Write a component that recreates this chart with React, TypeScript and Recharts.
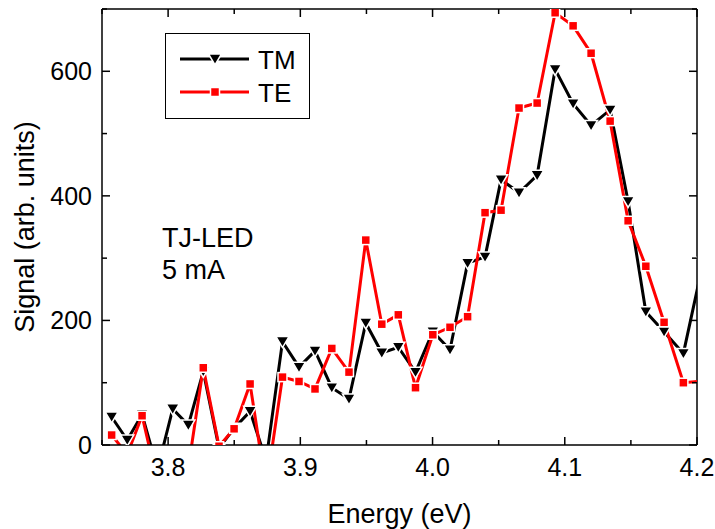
import React from "react";
import {
  LineChart,
  Line,
  XAxis,
  YAxis,
  Label,
  Legend,
  ReferenceLine,
  Customized,
} from "recharts";

// photon energy (eV) of each sample
const energy = [
  3.7573, 3.7691, 3.7803, 3.792, 3.8035, 3.8153, 3.8266, 3.8385, 3.8499, 3.862,
  3.8741, 3.8865, 3.899, 3.9111, 3.9238, 3.9368, 3.9495, 3.9616, 3.9741, 3.9871,
  4.0002, 4.0132, 4.0265, 4.0397, 4.0518, 4.0654, 4.0791, 4.0927, 4.1063, 4.1199,
  4.1343, 4.1479, 4.1613, 4.1751, 4.1897, 4.2046,
];

const tmSignal = [
  45, 8, 49, -39, 58, 32, 118, -5, 27, 54, -25, 166, 125, 151, 92, 74, 196, 148,
  157, 117, 182, 153, 292, 302, 426, 405, 433, 603, 548, 513, 538, 391, 214, 182,
  147, 293,
];

const teSignal = [
  16, -15, 47, -60, -50, -36, 124, -2, 26, 98, -70, 109, 102, 90, 155, 117, 329,
  194, 209, 92, 177, 189, 206, 373, 377, 541, 549, 694, 673, 629, 520, 360, 287,
  197, 100, 103,
];

const xTicks = [3.75, 3.8, 3.85, 3.9, 3.95, 4.0, 4.05, 4.1, 4.15, 4.2];
const yTicks = [0, 100, 200, 300, 400, 500, 600, 700];
const yLabeled = [0, 200, 400, 600];
const seriesOrder = ["tm", "te"];

const data = energy.map((e, i) => ({ energy: e, tm: tmSignal[i], te: teSignal[i] }));

const W = 715;
const H = 529;
const Y_AXIS_W = 102;
const X_AXIS_H = 84;
const margin = { top: 9, right: 18, bottom: 0, left: 0 };
const plotW = W - margin.left - margin.right - Y_AXIS_W;
const plotH = H - margin.top - margin.bottom - X_AXIS_H;
const FONT = '"Liberation Sans", Arial, sans-serif';
const RED = "#ff0000";

const Triangle = ({ cx, cy, fill = "#000" }: any) => (
  <path
    d={`M${cx - 6.5},${cy - 5} L${cx + 6.5},${cy - 5} L${cx},${cy + 6} Z`}
    fill={fill}
    stroke="#fff"
    strokeWidth={1.5}
  />
);

const Square = ({ cx, cy, fill = RED }: any) => (
  <rect x={cx - 4.5} y={cy - 4.5} width={9} height={9} fill={fill} stroke="#fff" strokeWidth={1.5} />
);

const XTick = ({ x, y, payload }: any) => {
  const v = payload.value;
  const major = Math.abs(v * 10 - Math.round(v * 10)) < 1e-6;
  const len = major ? 8 : 5;
  return (
    <g>
      <line x1={x} x2={x} y1={y} y2={y - len} stroke="#000" strokeWidth={1.5} />
      <line x1={x} x2={x} y1={y - plotH} y2={y - plotH + len} stroke="#000" strokeWidth={1.5} />
      {major && (
        <text x={x} y={y + 31} textAnchor="middle" fontSize={25} fontFamily={FONT} fill="#000">
          {v.toFixed(1)}
        </text>
      )}
    </g>
  );
};

const YTick = ({ x, y, payload }: any) => {
  const v = payload.value;
  const major = yLabeled.includes(v);
  const len = major ? 8 : 5;
  return (
    <g>
      <line x1={x} x2={x + len} y1={y} y2={y} stroke="#000" strokeWidth={1.5} />
      <line x1={x + plotW} x2={x + plotW - len} y1={y} y2={y} stroke="#000" strokeWidth={1.5} />
      {major && (
        <text x={x - 10} y={y} dy="0.36em" textAnchor="end" fontSize={25} fontFamily={FONT} fill="#000">
          {v}
        </text>
      )}
    </g>
  );
};

const LegendBox = ({ payload }: any) => {
  const items = [...(payload || [])].sort(
    (a: any, b: any) => seriesOrder.indexOf(a.dataKey) - seriesOrder.indexOf(b.dataKey)
  );
  return (
    <div style={{ width: 145, height: 86, border: "1.5px solid #000", boxSizing: "border-box", background: "#fff" }}>
      <svg width={142} height={83} style={{ display: "block" }}>
        {items.map((p: any, i: number) => {
          const yy = 25 + i * 33;
          const isTM = p.dataKey === "tm";
          const col = isTM ? "#000" : RED;
          return (
            <g key={p.dataKey}>
              <line x1={14} x2={83} y1={yy} y2={yy} stroke={col} strokeWidth={3} />
              {isTM ? <Triangle cx={49} cy={yy} /> : <Square cx={49} cy={yy} />}
              <text x={92} y={yy + 10} fontSize={26} fontFamily={FONT} fill="#000">
                {p.value}
              </text>
            </g>
          );
        })}
      </svg>
    </div>
  );
};

const Annotation = () => (
  <g fontFamily={FONT} fontSize={27} fill="#000">
    <text x={162} y={247}>TJ-LED</text>
    <text x={162} y={279}>5 mA</text>
  </g>
);

export default function App() {
  return (
    <div style={{ position: "absolute", left: 0, top: 0, width: W, height: H, background: "#fff" }}>
      <LineChart width={W} height={H} data={data} margin={margin}>
        <XAxis
          dataKey="energy"
          type="number"
          domain={[3.75, 4.2]}
          ticks={xTicks}
          interval={0}
          allowDataOverflow
          height={X_AXIS_H}
          tickSize={0}
          tickMargin={0}
          tickLine={false}
          tick={<XTick />}
          axisLine={{ stroke: "#000", strokeWidth: 1.5 }}
        >
          <Label
            value="Energy (eV)"
            position="insideBottom"
            offset={6}
            style={{ fontSize: 27, fontFamily: FONT, fill: "#000" }}
          />
        </XAxis>
        <YAxis
          type="number"
          domain={[0, 700]}
          ticks={yTicks}
          interval={0}
          allowDataOverflow
          width={Y_AXIS_W}
          tickSize={0}
          tickMargin={0}
          tickLine={false}
          tick={<YTick />}
          axisLine={{ stroke: "#000", strokeWidth: 1.5 }}
        >
          <Label
            value="Signal (arb. units)"
            angle={-90}
            position="insideLeft"
            offset={24}
            style={{ fontSize: 27, fontFamily: FONT, fill: "#000", textAnchor: "middle" }}
          />
        </YAxis>
        <ReferenceLine y={700} stroke="#000" strokeWidth={1.5} />
        <ReferenceLine x={4.2} stroke="#000" strokeWidth={1.5} />
        <Line
          dataKey="tm"
          name="TM"
          stroke="#000"
          strokeWidth={3}
          isAnimationActive={false}
          dot={(p: any) => <Triangle key={`tm-${p.index}`} cx={p.cx} cy={p.cy} />}
        />
        <Line
          dataKey="te"
          name="TE"
          stroke={RED}
          strokeWidth={3}
          isAnimationActive={false}
          dot={(p: any) => <Square key={`te-${p.index}`} cx={p.cx} cy={p.cy} />}
        />
        <Legend
          layout="vertical"
          align="center"
          verticalAlign="middle"
          content={<LegendBox />}
          wrapperStyle={{ left: 165, top: 33, width: 145, height: 86 }}
        />
        <Customized component={Annotation} />
      </LineChart>
    </div>
  );
}
